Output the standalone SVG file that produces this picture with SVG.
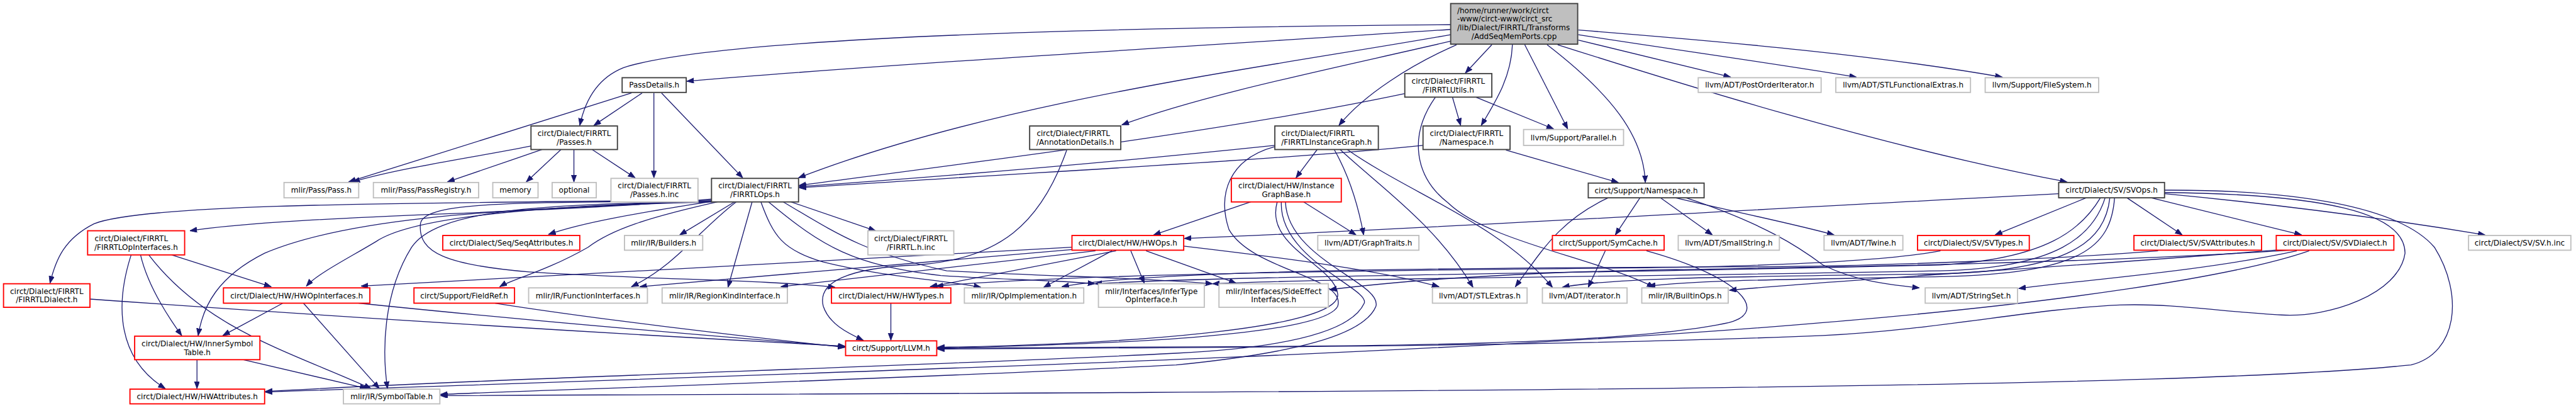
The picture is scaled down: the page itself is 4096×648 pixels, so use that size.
<svg xmlns="http://www.w3.org/2000/svg" width="4096" height="648" viewBox="0 0 4096 648">
<defs>
<style>
.doc{fill:#fff;stroke:#404040;stroke-width:2}
.ext{fill:#fff;stroke:#bfbfbf;stroke-width:2}
.trn{fill:#fff;stroke:#ff0000;stroke-width:2}
.mn{fill:#bfbfbf;stroke:#404040;stroke-width:2}
.t{font-family:"DejaVu Sans","Liberation Sans",sans-serif;font-size:12.9px;fill:#000}
.c{text-anchor:middle}
.e{fill:none;stroke:#191970;stroke-width:1.4;marker-end:url(#ah)}
</style>
<marker id="ah" markerWidth="13" markerHeight="10" refX="12" refY="4.5" orient="auto" markerUnits="userSpaceOnUse"><path d="M0,0 L12,4.5 L0,9 z" fill="#191970" stroke="#191970"/></marker>
</defs>
<rect width="4096" height="648" fill="#fff"/>
<g transform="scale(0.935)">
<g id="connectors">
<path class="e" d="M2467,42 C1700,48 1200,70 1060,115 C1010,135 993,180 986,213"/>
<path class="e" d="M2467,50 C2000,80 1500,110 1168,138"/>
<path class="e" d="M2467,59 C2150,115 1700,170 1358,302"/>
<path class="e" d="M2467,70 C2250,120 2050,160 1908,212"/>
<path class="e" d="M2537,76 L2492,124"/>
<path class="e" d="M2477,76 C2400,110 2320,160 2277,213"/>
<path class="e" d="M2572,76 C2570,130 2545,170 2519,213"/>
<path class="e" d="M2593,76 L2666,219"/>
<path class="e" d="M2631,76 C2740,160 2795,230 2798,310"/>
<path class="e" d="M2649,76 C2850,140 3200,250 3515,309"/>
<path class="e" d="M2684,68 L2943,131"/>
<path class="e" d="M2684,59 C2850,85 3000,105 3157,131"/>
<path class="e" d="M2684,51 C2950,72 3200,95 3405,131"/>
<path class="e" d="M1074,158 L593,309"/>
<path class="e" d="M1092,158 L1010,213"/>
<path class="e" d="M1112,158 L1112,302"/>
<path class="e" d="M1125,158 L1263,302"/>
<path class="e" d="M903,248 C820,265 680,285 600,309"/>
<path class="e" d="M922,254 L761,309"/>
<path class="e" d="M954,254 L895,309"/>
<path class="e" d="M976,254 L976,309"/>
<path class="e" d="M1007,254 L1080,302"/>
<path class="e" d="M2389,159 C2100,220 1700,270 1359,315"/>
<path class="e" d="M2470,165 L2484,213"/>
<path class="e" d="M2510,165 L2642,219"/>
<path class="e" d="M2441,165 C2395,230 2405,300 2463,345 C2530,410 2720,440 2813,488"/>
<path class="e" d="M2168,247 C1900,275 1600,300 1359,317"/>
<path class="e" d="M2240,254 L2204,302"/>
<path class="e" d="M2269,254 C2295,300 2310,350 2319,399"/>
<path class="e" d="M2279,254 C2350,320 2440,380 2505,488"/>
<path class="e" d="M2291,254 C2400,330 2550,380 2640,488"/>
<path class="e" d="M2168,249 C2090,270 2070,330 2090,390 C2130,460 2290,470 2275,520 C2250,570 1900,585 1594,591"/>
<path class="e" d="M2420,247 C2200,270 1800,290 1359,319"/>
<path class="e" d="M2561,255 L2752,310"/>
<path class="e" d="M2127,343 L1962,399"/>
<path class="e" d="M2217,343 L2306,399"/>
<path class="e" d="M2172,343 C2150,420 2270,450 2275,500 C2280,560 1900,585 1594,590"/>
<path class="e" d="M2179,343 C2175,440 2330,490 2320,515 C2300,560 2200,590 2000,600 C1500,625 900,640 451,665"/>
<path class="e" d="M2186,343 C2190,440 2350,480 2340,520 C2320,570 2200,600 2000,620 C1500,645 1000,660 749,670"/>
<path class="e" d="M2789,336 L2747,399"/>
<path class="e" d="M2824,336 L2912,399"/>
<path class="e" d="M2849,336 C2950,360 3050,380 3119,399"/>
<path class="e" d="M2867,336 C3000,380 3060,420 3100,450 C3150,475 3200,482 3264,489"/>
<path class="e" d="M2735,336 C2650,375 2620,430 2577,487"/>
<path class="e" d="M2730,426 L2701,488"/>
<path class="e" d="M2800,426 C2960,470 3010,530 2940,548 C2700,600 2000,585 1594,592"/>
<path class="e" d="M3501,329 C3000,355 2400,390 2014,405"/>
<path class="e" d="M3548,336 L3393,399"/>
<path class="e" d="M3617,336 L3711,399"/>
<path class="e" d="M3658,336 L3914,399"/>
<path class="e" d="M3681,329 C3850,345 4050,370 4226,399"/>
<path class="e" d="M3681,323 C3900,322 4080,350 4140,420 C4190,500 4180,600 4100,620 C3700,660 2500,665 749,672"/>
<path class="e" d="M3681,327 C3950,330 4090,360 4090,430 C4080,500 3960,540 3880,535 C3780,530 3700,515 3605,518 C3450,525 3300,560 3100,570 C2600,590 2000,590 1594,593"/>
<path class="e" d="M3572,336 C3540,390 3480,440 3300,450 C2700,465 2100,468 1862,482"/>
<path class="e" d="M3580,336 C3560,400 3500,455 3300,460 C2800,470 2300,472 2062,482"/>
<path class="e" d="M3588,336 C3580,410 3520,460 3300,465 C3000,470 2750,470 2657,488"/>
<path class="e" d="M3596,336 C3590,420 3540,465 3300,470 C3050,475 2900,475 2803,486"/>
<path class="e" d="M3300,426 C3200,445 3000,452 2800,455 C2200,460 1800,468 1592,486"/>
<path class="e" d="M3670,426 C3500,440 3200,452 3000,453 C2400,455 1950,460 1806,487"/>
<path class="e" d="M3906,426 C3750,460 3550,475 3433,490"/>
<path class="e" d="M3880,424 C3500,455 3200,470 2941,493"/>
<path class="e" d="M3895,425 C3500,450 3000,455 2850,458 C2600,462 2400,475 2261,492"/>
<path class="e" d="M3927,426 C3800,470 3500,515 3100,548 C2500,600 1500,630 451,666"/>
<path class="e" d="M1823,420 L614,486"/>
<path class="e" d="M1823,424 L1088,487"/>
<path class="e" d="M1863,426 L1328,487"/>
<path class="e" d="M1898,426 L1582,487"/>
<path class="e" d="M1891,426 L1775,488"/>
<path class="e" d="M1923,426 L1946,481"/>
<path class="e" d="M1949,426 L2102,481"/>
<path class="e" d="M2013,418 C2200,440 2350,460 2447,487"/>
<path class="e" d="M1249,343 L1156,399"/>
<path class="e" d="M1279,343 L1238,488"/>
<path class="e" d="M1345,343 L1489,392"/>
<path class="e" d="M1252,343 C1190,390 1150,450 1074,487"/>
<path class="e" d="M1212,341 C900,345 720,340 715,380 C710,430 760,450 900,462 C1100,475 1300,475 1420,488"/>
<path class="e" d="M1294,343 C1315,400 1330,425 1400,445 C1500,470 1600,475 1668,488"/>
<path class="e" d="M1307,343 C1400,420 1450,450 1600,468 C1700,475 1800,476 1862,482"/>
<path class="e" d="M1332,343 C1420,395 1470,430 1610,460 C1800,470 1950,472 2062,482"/>
<path class="e" d="M1210,338 C900,365 500,365 323,392"/>
<path class="e" d="M1210,340 C700,345 250,345 160,380 C110,405 95,440 85,481"/>
<path class="e" d="M1210,342 C1100,360 1000,375 933,398"/>
<path class="e" d="M1210,342 C900,350 700,370 640,410 C590,440 540,465 521,486"/>
<path class="e" d="M1210,343 C800,355 580,375 450,430 C370,470 345,520 337,570"/>
<path class="e" d="M1210,343 C900,345 740,360 700,420 C650,500 650,600 659,660"/>
<path class="e" d="M1220,343 C1100,370 1040,390 1000,420 C930,460 870,475 850,487"/>
<path class="e" d="M1814,255 C1770,380 1700,440 1560,450 C1440,455 1390,480 1400,520 C1410,550 1440,565 1468,578"/>
<path class="e" d="M292,433 L461,487"/>
<path class="e" d="M239,433 C250,480 280,530 309,570"/>
<path class="e" d="M223,433 C195,520 200,610 281,660"/>
<path class="e" d="M253,433 C350,560 500,600 631,660"/>
<path class="e" d="M153,508 C600,540 1100,570 1437,588"/>
<path class="e" d="M481,515 L379,570"/>
<path class="e" d="M516,515 L645,660"/>
<path class="e" d="M610,515 C900,545 1200,570 1437,589"/>
<path class="e" d="M842,515 C1000,540 1250,570 1437,590"/>
<path class="e" d="M1515,515 L1515,578"/>
<path class="e" d="M335,611 L335,660"/>
<path class="e" d="M414,611 L624,660"/>
</g>
<g id="n_main"><rect class="mn" x="2467" y="6" width="216" height="69"/><text class="t" x="2478" y="22">/home/runner/work/circt</text><text class="t" x="2478" y="36.6">-www/circt-www/circt_src</text><text class="t" x="2478" y="51.2">/lib/Dialect/FIRRTL/Transforms</text><text class="t c" x="2575" y="65.8">/AddSeqMemPorts.cpp</text></g>
<g id="n_passdetails"><rect class="doc" x="1058" y="132" width="109" height="25"/><text class="t c" x="1112.5" y="149.1">PassDetails.h</text></g>
<g id="n_firrtlutils"><rect class="doc" x="2389" y="125" width="148" height="40"/><text class="t c" x="2463" y="142.3">circt/Dialect/FIRRTL</text><text class="t c" x="2463" y="156.9">/FIRRTLUtils.h</text></g>
<g id="n_postorder"><rect class="ext" x="2888" y="132" width="209" height="25"/><text class="t c" x="2992.5" y="149.1">llvm/ADT/PostOrderIterator.h</text></g>
<g id="n_stlfunc"><rect class="ext" x="3122" y="132" width="229" height="25"/><text class="t c" x="3236.5" y="149.1">llvm/ADT/STLFunctionalExtras.h</text></g>
<g id="n_filesystem"><rect class="ext" x="3376" y="132" width="193" height="25"/><text class="t c" x="3472.5" y="149.1">llvm/Support/FileSystem.h</text></g>
<g id="n_passes"><rect class="doc" x="903" y="214" width="147" height="40"/><text class="t c" x="976.5" y="231.3">circt/Dialect/FIRRTL</text><text class="t c" x="976.5" y="245.9">/Passes.h</text></g>
<g id="n_annotation"><rect class="doc" x="1751" y="214" width="155" height="40"/><text class="t" x="1763" y="231.3">circt/Dialect/FIRRTL</text><text class="t c" x="1828.5" y="245.9">/AnnotationDetails.h</text></g>
<g id="n_instgraph"><rect class="doc" x="2168" y="214" width="176" height="40"/><text class="t" x="2179" y="231.3">circt/Dialect/FIRRTL</text><text class="t c" x="2256" y="245.9">/FIRRTLInstanceGraph.h</text></g>
<g id="n_firrtlns"><rect class="doc" x="2420" y="214" width="148" height="40"/><text class="t c" x="2494" y="231.3">circt/Dialect/FIRRTL</text><text class="t c" x="2494" y="245.9">/Namespace.h</text></g>
<g id="n_parallel"><rect class="ext" x="2591" y="220" width="170" height="27"/><text class="t c" x="2676" y="238.1">llvm/Support/Parallel.h</text></g>
<g id="n_pass"><rect class="ext" x="483" y="310" width="127" height="26"/><text class="t c" x="546.5" y="327.6">mlir/Pass/Pass.h</text></g>
<g id="n_passreg"><rect class="ext" x="635" y="310" width="179" height="26"/><text class="t c" x="724.5" y="327.6">mlir/Pass/PassRegistry.h</text></g>
<g id="n_memory"><rect class="ext" x="838" y="310" width="77" height="26"/><text class="t c" x="876.5" y="327.6">memory</text></g>
<g id="n_optional"><rect class="ext" x="939" y="310" width="75" height="26"/><text class="t c" x="976.5" y="327.6">optional</text></g>
<g id="n_passesinc"><rect class="ext" x="1039" y="303" width="148" height="40"/><text class="t c" x="1113" y="320.3">circt/Dialect/FIRRTL</text><text class="t c" x="1113" y="334.9">/Passes.h.inc</text></g>
<g id="n_firrtlops"><rect class="doc" x="1210" y="303" width="148" height="40"/><text class="t c" x="1284" y="320.3">circt/Dialect/FIRRTL</text><text class="t c" x="1284" y="334.9">/FIRRTLOps.h</text></g>
<g id="n_igbase"><rect class="trn" x="2094" y="303" width="187" height="40"/><text class="t c" x="2187.5" y="320.3">circt/Dialect/HW/Instance</text><text class="t c" x="2187.5" y="334.9">GraphBase.h</text></g>
<g id="n_supportns"><rect class="doc" x="2701" y="311" width="197" height="25"/><text class="t c" x="2799.5" y="328.1">circt/Support/Namespace.h</text></g>
<g id="n_svops"><rect class="doc" x="3501" y="310" width="180" height="26"/><text class="t c" x="3591" y="327.6">circt/Dialect/SV/SVOps.h</text></g>
<g id="n_opinterfaces"><rect class="trn" x="149" y="392" width="165" height="41"/><text class="t" x="161" y="409.8">circt/Dialect/FIRRTL</text><text class="t c" x="231.5" y="424.4">/FIRRTLOpInterfaces.h</text></g>
<g id="n_seqattr"><rect class="trn" x="753" y="400" width="233" height="25"/><text class="t c" x="869.5" y="417.1">circt/Dialect/Seq/SeqAttributes.h</text></g>
<g id="n_builders"><rect class="ext" x="1062" y="400" width="133" height="25"/><text class="t c" x="1128.5" y="417.1">mlir/IR/Builders.h</text></g>
<g id="n_firrtlinc"><rect class="ext" x="1476" y="392" width="146" height="41"/><text class="t c" x="1549" y="409.8">circt/Dialect/FIRRTL</text><text class="t c" x="1549" y="424.4">/FIRRTL.h.inc</text></g>
<g id="n_hwops"><rect class="trn" x="1823" y="400" width="190" height="25"/><text class="t c" x="1918" y="417.1">circt/Dialect/HW/HWOps.h</text></g>
<g id="n_graphtraits"><rect class="ext" x="2241" y="400" width="172" height="25"/><text class="t c" x="2327" y="417.1">llvm/ADT/GraphTraits.h</text></g>
<g id="n_symcache"><rect class="trn" x="2640" y="400" width="190" height="25"/><text class="t c" x="2735" y="417.1">circt/Support/SymCache.h</text></g>
<g id="n_smallstring"><rect class="ext" x="2854" y="400" width="172" height="25"/><text class="t c" x="2940" y="417.1">llvm/ADT/SmallString.h</text></g>
<g id="n_twine"><rect class="ext" x="3102" y="400" width="134" height="25"/><text class="t c" x="3169" y="417.1">llvm/ADT/Twine.h</text></g>
<g id="n_svtypes"><rect class="trn" x="3261" y="400" width="190" height="25"/><text class="t c" x="3356" y="417.1">circt/Dialect/SV/SVTypes.h</text></g>
<g id="n_svattr"><rect class="trn" x="3629" y="400" width="217" height="25"/><text class="t c" x="3737.5" y="417.1">circt/Dialect/SV/SVAttributes.h</text></g>
<g id="n_svdialect"><rect class="trn" x="3871" y="400" width="200" height="25"/><text class="t c" x="3971" y="417.1">circt/Dialect/SV/SVDialect.h</text></g>
<g id="n_svinc"><rect class="ext" x="4198" y="400" width="174" height="25"/><text class="t c" x="4285" y="417.1">circt/Dialect/SV/SV.h.inc</text></g>
<g id="n_firrtldialect"><rect class="trn" x="6" y="482" width="147" height="40"/><text class="t c" x="79.5" y="499.3">circt/Dialect/FIRRTL</text><text class="t c" x="79.5" y="513.9">/FIRRTLDialect.h</text></g>
<g id="n_hwopinterfaces"><rect class="trn" x="380" y="489" width="249" height="26"/><text class="t c" x="504.5" y="506.6">circt/Dialect/HW/HWOpInterfaces.h</text></g>
<g id="n_fieldref"><rect class="trn" x="704" y="489" width="171" height="26"/><text class="t c" x="789.5" y="506.6">circt/Support/FieldRef.h</text></g>
<g id="n_funcif"><rect class="ext" x="899" y="489" width="202" height="26"/><text class="t c" x="1000" y="506.6">mlir/IR/FunctionInterfaces.h</text></g>
<g id="n_regionkind"><rect class="ext" x="1126" y="489" width="213" height="26"/><text class="t c" x="1232.5" y="506.6">mlir/IR/RegionKindInterface.h</text></g>
<g id="n_hwtypes"><rect class="trn" x="1414" y="489" width="203" height="26"/><text class="t c" x="1515.5" y="506.6">circt/Dialect/HW/HWTypes.h</text></g>
<g id="n_opimpl"><rect class="ext" x="1640" y="489" width="203" height="26"/><text class="t c" x="1741.5" y="506.6">mlir/IR/OpImplementation.h</text></g>
<g id="n_infertype"><rect class="ext" x="1868" y="482" width="180" height="40"/><text class="t c" x="1958" y="499.3">mlir/Interfaces/InferType</text><text class="t c" x="1958" y="513.9">OpInterface.h</text></g>
<g id="n_sideeffect"><rect class="ext" x="2073" y="482" width="186" height="40"/><text class="t c" x="2166" y="499.3">mlir/Interfaces/SideEffect</text><text class="t c" x="2166" y="513.9">Interfaces.h</text></g>
<g id="n_stlextras"><rect class="ext" x="2436" y="489" width="161" height="26"/><text class="t c" x="2516.5" y="506.6">llvm/ADT/STLExtras.h</text></g>
<g id="n_iterator"><rect class="ext" x="2623" y="489" width="144" height="26"/><text class="t c" x="2695" y="506.6">llvm/ADT/iterator.h</text></g>
<g id="n_builtinops"><rect class="ext" x="2792" y="489" width="147" height="26"/><text class="t c" x="2865.5" y="506.6">mlir/IR/BuiltinOps.h</text></g>
<g id="n_stringset"><rect class="ext" x="3274" y="489" width="157" height="26"/><text class="t c" x="3352.5" y="506.6">llvm/ADT/StringSet.h</text></g>
<g id="n_innersym"><rect class="trn" x="229" y="571" width="213" height="40"/><text class="t c" x="335.5" y="588.3">circt/Dialect/HW/InnerSymbol</text><text class="t c" x="335.5" y="602.9">Table.h</text></g>
<g id="n_llvm"><rect class="trn" x="1438" y="579" width="155" height="25"/><text class="t c" x="1515.5" y="596.1">circt/Support/LLVM.h</text></g>
<g id="n_hwattr"><rect class="trn" x="221" y="661" width="229" height="25"/><text class="t c" x="335.5" y="678.1">circt/Dialect/HW/HWAttributes.h</text></g>
<g id="n_symboltable"><rect class="ext" x="584" y="661" width="164" height="25"/><text class="t c" x="666" y="678.1">mlir/IR/SymbolTable.h</text></g>
</g>
</svg>
